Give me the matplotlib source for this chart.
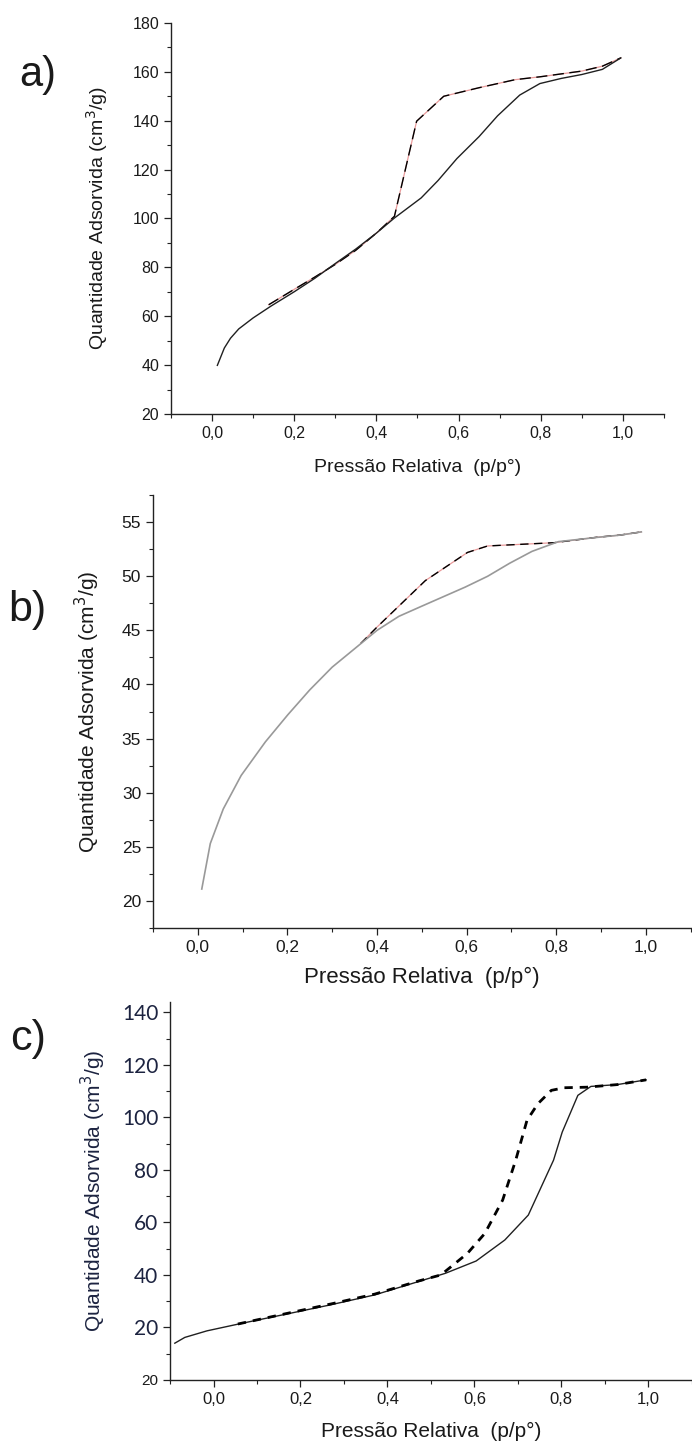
import matplotlib
matplotlib.use("Agg")
import matplotlib.pyplot as plt
from matplotlib.ticker import MultipleLocator, FixedLocator

plt.rcParams['font.family'] = ['Liberation Sans', 'DejaVu Sans']

# painel a) adsorcao / dessorcao
xa_ads = [0.013, 0.03, 0.045, 0.065, 0.1, 0.144, 0.2, 0.25, 0.302, 0.35, 0.4, 0.444,
          0.509, 0.55, 0.596, 0.65, 0.695, 0.749, 0.798, 0.85, 0.9, 0.95, 0.995]
ya_ads = [39.9, 47.0, 51.0, 54.8, 59.3, 64.2, 70.0, 75.5, 81.8, 87.5, 94.0, 100.2,
          108.4, 115.5, 124.5, 133.5, 142.0, 150.5, 155.2, 157.3, 158.9, 161.0, 165.7]
xa_des = [0.138, 0.2, 0.25, 0.3, 0.35, 0.4, 0.444, 0.498, 0.564, 0.65, 0.738, 0.8,
          0.9, 0.95, 0.995]
ya_des = [64.7, 71.0, 76.0, 81.2, 87.0, 94.0, 100.9, 139.8, 150.0, 153.5, 156.8,
          158.0, 160.3, 162.3, 165.7]

# painel b)
xb_ads = [0.009, 0.028, 0.057, 0.097, 0.151, 0.201, 0.25, 0.3, 0.35, 0.4, 0.449,
          0.498, 0.597, 0.647, 0.696, 0.746, 0.805, 0.893, 0.942, 0.99]
yb_ads = [21.1, 25.3, 28.5, 31.6, 34.7, 37.2, 39.5, 41.6, 43.3, 45.0, 46.3,
          47.2, 49.0, 50.0, 51.2, 52.3, 53.2, 53.6, 53.8, 54.1]
xb_des = [0.364, 0.4, 0.508, 0.602, 0.647, 0.696, 0.795, 0.89, 0.942, 0.99]
yb_des = [43.8, 45.3, 49.6, 52.2, 52.8, 52.9, 53.1, 53.6, 53.8, 54.1]

# painel c)
xc_ads = [-0.089, -0.066, -0.015, 0.066, 0.168, 0.269, 0.371, 0.472, 0.533, 0.604,
          0.67, 0.724, 0.782, 0.802, 0.838, 0.868, 0.929, 0.995]
yc_ads = [14.0, 16.2, 18.7, 21.6, 25.1, 28.6, 32.4, 37.5, 40.6, 45.3,
          53.3, 62.8, 83.7, 94.4, 108.4, 111.8, 112.5, 114.3]
xc_des = [0.056, 0.168, 0.269, 0.371, 0.472, 0.523, 0.584, 0.624, 0.665, 0.695,
          0.721, 0.746, 0.777, 0.807, 0.858, 0.929, 0.995]
yc_des = [21.3, 25.3, 28.9, 32.7, 37.7, 40.0, 48.2, 55.8, 68.5, 83.7,
          98.9, 105.2, 110.3, 111.3, 111.5, 112.5, 114.3]

xticks = [0.0, 0.2, 0.4, 0.6, 0.8, 1.0]
xticklabels = ['0,0', '0,2', '0,4', '0,6', '0,8', '1,0']
yticks_c = [0, 20, 40, 60, 80, 100, 120, 140]
yticklabels_c = ['20', '20', '40', '60', '80', '100', '120', '140']

ylabel = 'Quantidade Adsorvida (cm$^3$/g)'
xlabel = 'Pressão Relativa  (p/p°)'
txt = '#1a1a1a'

fig = plt.figure(figsize=(6.92, 14.43), dpi=100)


def style(ax, fs):
    for s in ['top', 'right']:
        ax.spines[s].set_visible(False)
    for s in ['left', 'bottom']:
        ax.spines[s].set_linewidth(1.0)
        ax.spines[s].set_color('#222222')
    ax.set_xlim(-0.1, 1.1)
    ax.set_xticks(xticks)
    ax.set_xticklabels(xticklabels)
    ax.xaxis.set_minor_locator(MultipleLocator(0.1))
    ax.tick_params(which='major', direction='out', length=5, width=0.9,
                   labelsize=fs, colors='#222222', labelcolor=txt)
    ax.tick_params(which='minor', direction='out', length=3, width=0.8,
                   colors='#222222')


# a)
axa = fig.add_axes([0.247, 0.7131, 0.7125, 0.271])
axa.plot(xa_des, ya_des, color='#e07070', lw=0.9, alpha=0.7)
axa.plot(xa_des, ya_des, color='black', lw=1.0, dashes=(8, 4))
axa.plot(xa_ads, ya_ads, color='#202020', lw=1.0)
style(axa, 11.5)
axa.set_ylim(20, 180)
axa.yaxis.set_major_locator(MultipleLocator(20))
axa.yaxis.set_minor_locator(MultipleLocator(10))
axa.set_xlabel(xlabel, fontsize=14, color=txt, labelpad=13)
axa.set_ylabel(ylabel, fontsize=14, color=txt, labelpad=16)
fig.text(0.028, 0.948, 'a)', fontsize=30, color=txt, va='center')

# b)
axb = fig.add_axes([0.221, 0.3569, 0.777, 0.300])
axb.plot(xb_des, yb_des, color='#e07070', lw=0.9, alpha=0.7)
axb.plot(xb_des, yb_des, color='black', lw=1.0, dashes=(6, 4))
axb.plot(xb_ads, yb_ads, color='#999999', lw=1.2)
style(axb, 12.5)
axb.set_ylim(17.5, 57.5)
axb.yaxis.set_major_locator(MultipleLocator(5))
axb.yaxis.set_minor_locator(MultipleLocator(2.5))
axb.set_xlabel(xlabel, fontsize=16, color=txt, labelpad=9)
axb.set_ylabel(ylabel, fontsize=15, color=txt, labelpad=14)
fig.text(0.012, 0.577, 'b)', fontsize=31, color=txt, va='center')

# c)
axc = fig.add_axes([0.2457, 0.0437, 0.754, 0.262])
axc.plot(xc_ads, yc_ads, color='#202020', lw=1.0)
axc.plot(xc_des, yc_des, color='black', lw=2.0, dashes=(3, 2.5))
style(axc, 12)
axc.set_ylim(0, 144)
axc.yaxis.set_major_locator(FixedLocator(yticks_c))
axc.set_yticklabels(yticklabels_c)
axc.yaxis.set_minor_locator(MultipleLocator(10))
for i, lab in enumerate(axc.get_yticklabels()):
    if i == 0:
        lab.set_fontsize(11)
        lab.set_color(txt)
    else:
        lab.set_family(['Lato', 'DejaVu Sans'])
        lab.set_fontsize(15)
        lab.set_color('#1c2340')
axc.set_xlabel(xlabel, fontsize=15, color=txt, labelpad=11)
axc.set_ylabel(ylabel, fontsize=15, color='#1c2340', labelpad=10)
fig.text(0.015, 0.28, 'c)', fontsize=31, color=txt, va='center')

fig.savefig('out.png', dpi=100)
